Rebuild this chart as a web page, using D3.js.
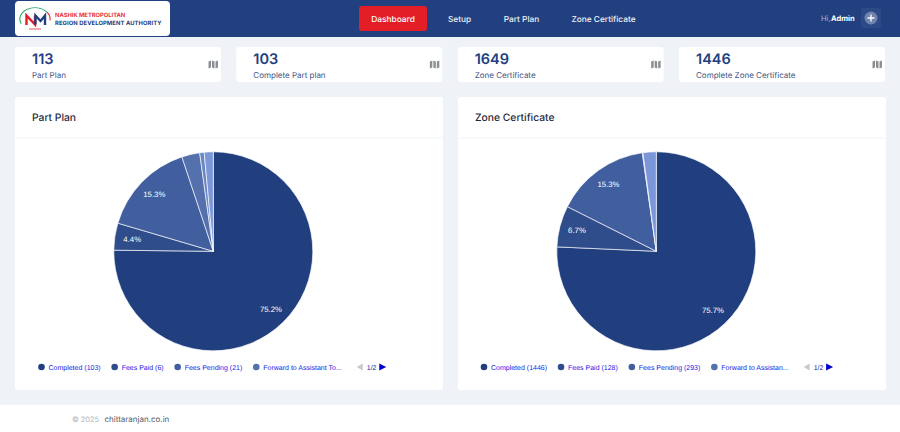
<!DOCTYPE html>
<html>
<head>
<meta charset="utf-8">
<title>Dashboard</title>
<script src="https://cdn.jsdelivr.net/npm/d3@7/dist/d3.min.js"></script>
<style>
  html, body { margin: 0; padding: 0; background: #eff2f6; }
  svg { display: block; }
  text { font-family: Inter, "Noto Sans", sans-serif; text-rendering: geometricPrecision; }
  .legend text, .slice-label { font-family: "Liberation Sans", Arial, sans-serif; }
</style>
</head>
<body>
<div id="chart"></div>
<script>
// numbers on the four cards
var statValues = [113, 103, 1649, 1446];
var statLabels = ['Part Plan', 'Complete Part plan', 'Zone Certificate', 'Complete Zone Certificate'];

var navItems = ['Setup', 'Part Plan', 'Zone Certificate'];

// pie data, the slices after the fourth are on legend page 2
var partPlanValues = [103, 6, 21, 4, 1, 2];
var partPlanLegend = ['Completed (103)', 'Fees Paid (6)', 'Fees Pending (21)', 'Forward to Assistant To...'];
var zoneValues = [1446, 128, 293, 2, 41];
var zoneLegend = ['Completed (1446)', 'Fees Paid (128)', 'Fees Pending (293)', 'Forward to Assistan...'];

var partPlanColors = ['#213f7f', '#2f4d8b', '#415f9e', '#5470ad', '#6a86c4', '#7b97da'];
var zoneColors = ['#213f7f', '#2f4d8b', '#415f9e', '#5470ad', '#7b97da'];

var navy = '#22407f';

var svg = d3.select('#chart').append('svg')
  .attr('width', 900)
  .attr('height', 432);

svg.append('rect').attr('width', 900).attr('height', 432).attr('fill', '#eff2f6');

// header
svg.append('rect').attr('width', 900).attr('height', 37).attr('fill', navy);
svg.append('rect').attr('x', 15).attr('y', 1).attr('width', 155).attr('height', 35).attr('rx', 4).attr('fill', '#fff');

// logo
var logo = svg.append('g').attr('transform', 'translate(35,19)');
var ring = d3.arc().innerRadius(12.6).outerRadius(13.5);
var ringWrap = logo.append('g').attr('transform', 'scale(1.16,0.87)');
ringWrap.append('path').attr('d', ring({startAngle: -2.0, endAngle: 0.9})).attr('fill', '#2aa66d');
ringWrap.append('path').attr('d', ring({startAngle: 0.9, endAngle: 1.7})).attr('fill', '#e41e26');
logo.append('path').attr('d', 'M-8.5,6V-3.5L0,5.5V-3.5').attr('fill', 'none').attr('stroke', '#e41e26').attr('stroke-width', 2.4);
logo.append('path').attr('d', 'M0.5,5.5V-3.5L5.5,2L10,-3.5V6').attr('fill', 'none').attr('stroke', navy).attr('stroke-width', 2.4);
logo.append('rect').attr('x', -6).attr('y', 9.4).attr('width', 12).attr('height', 1.2).attr('fill', '#e8737a');
svg.append('text').attr('x', 55).attr('y', 17).attr('font-size', 5.8).attr('font-weight', 700).attr('fill', '#e8343c').text('NASHIK METROPOLITAN');
svg.append('text').attr('x', 55).attr('y', 25).attr('font-size', 5.8).attr('font-weight', 700).attr('fill', navy).attr('letter-spacing', 0.1).text('REGION DEVELOPMENT AUTHORITY');

// nav
svg.append('rect').attr('x', 359).attr('y', 6).attr('width', 68).attr('height', 25).attr('rx', 3).attr('fill', '#e41e26');
svg.append('text').attr('x', 393).attr('y', 22).attr('text-anchor', 'middle').attr('font-size', 8.4).attr('font-weight', 500).attr('fill', '#fff').text('Dashboard');
var navScale = d3.scalePoint().domain(navItems).range([0, 2]);
var navCenters = d3.scaleLinear().domain([0, 1, 2]).range([459.5, 521.5, 603.5]);
svg.selectAll('.nav').data(navItems).enter().append('text')
  .attr('class', 'nav')
  .attr('x', function(d){ return navCenters(navScale(d)); })
  .attr('y', 22)
  .attr('text-anchor', 'middle')
  .attr('font-size', 8.3)
  .attr('font-weight', 500)
  .attr('fill', '#eef1f7')
  .text(function(d){ return d; });

// user
svg.append('text').attr('x', 821).attr('y', 21).attr('font-size', 7.5).attr('fill', '#a9b6d0').text('Hi,');
svg.append('text').attr('x', 831).attr('y', 21).attr('font-size', 7.5).attr('font-weight', 700).attr('fill', '#fff').text('Admin');
svg.append('rect').attr('x', 861).attr('y', 8).attr('width', 20).attr('height', 20).attr('rx', 3).attr('fill', '#2d4a87');
svg.append('circle').attr('cx', 871).attr('cy', 18).attr('r', 6.5).attr('fill', '#6f83ae');
svg.append('path').attr('d', 'M867.5,18H874.5M871,14.5V21.5').attr('stroke', '#fff').attr('stroke-width', 1.3);

// stat cards
var cardX = d3.scaleLinear().domain([0, 3]).range([15, 679]);
var cards = svg.selectAll('.card').data(statValues).enter().append('g')
  .attr('class', 'card')
  .attr('transform', function(d, i){ return 'translate(' + cardX(i) + ',47)'; });
cards.append('rect').attr('width', 206).attr('height', 35).attr('rx', 3).attr('fill', '#fff');
cards.append('text').attr('x', 17).attr('y', 16.5).attr('font-size', 14.5).attr('font-weight', 600).attr('fill', navy)
  .text(function(d){ return d; });
cards.append('text').attr('x', 17).attr('y', 31).attr('font-size', 8).attr('fill', '#3f5282')
  .text(function(d, i){ return statLabels[i]; });
cards.append('path').attr('d', 'M193.5,14.5l2.5,-1v7l-2.5,1zM197,13.5l2.5,1v7l-2.5,-1zM200.5,14.5l2.5,-1v7l-2.5,1z').attr('fill', '#8b8f94');

// pie panels
var pie = d3.pie().sort(null).value(function(d){ return d; });
var pieArc = d3.arc().innerRadius(0).outerRadius(99.5);
var labelArc = d3.arc().innerRadius(82).outerRadius(82);

function drawPanel(x, title, values, colors, legendLabels, legendStart) {
  var panel = svg.append('g').attr('transform', 'translate(' + x + ',97)');
  var total = d3.sum(values);

  panel.append('rect').attr('width', 428).attr('height', 293).attr('rx', 3).attr('fill', '#fff');
  panel.append('line').attr('x1', 0).attr('x2', 428).attr('y1', 41).attr('y2', 41).attr('stroke', '#f1f3f6');
  panel.append('text').attr('x', 17).attr('y', 24).attr('font-size', 10.3).attr('font-weight', 500).attr('fill', '#1f2a3d').text(title);

  var slices = panel.append('g').attr('transform', 'translate(198.3,154.3)');
  var arcs = pie(values);
  slices.selectAll('path').data(arcs).enter().append('path')
    .attr('d', pieArc)
    .attr('fill', function(d, i){ return colors[i]; })
    .attr('stroke', '#fff')
    .attr('stroke-opacity', 0.8)
    .attr('stroke-width', 0.8);

  slices.selectAll('text').data(arcs.filter(function(d){ return d.value / total > 0.04; })).enter().append('text')
    .attr('class', 'slice-label')
    .attr('transform', function(d){ return 'translate(' + labelArc.centroid(d) + ')'; })
    .attr('text-anchor', 'middle')
    .attr('dy', '0.35em')
    .attr('font-size', 7.8)
    .attr('fill', '#fff')
    .text(function(d){ return d3.format('.1%')(d.value / total); });

  // legend flows left to right, the way the pager legend does
  var legend = panel.append('g').attr('class', 'legend').attr('transform', 'translate(0,270)');
  var cursor = legendStart;
  legendLabels.forEach(function(label, i){
    legend.append('circle').attr('cx', cursor).attr('cy', 0).attr('r', 3.3).attr('fill', colors[i]);
    var t = legend.append('text').attr('x', cursor + 7).attr('y', 2.6).attr('font-size', 7).attr('fill', '#1a1ae6').text(label);
    cursor += 7 + t.node().getComputedTextLength() + 14;
  });
  cursor += 1;
  legend.append('path').attr('d', 'M' + cursor + ',0l6,-3.5v7z').attr('fill', '#c9c9c9');
  legend.append('text').attr('x', cursor + 10).attr('y', 2.6).attr('font-size', 7).attr('fill', '#222299').text('1/2');
  legend.append('path').attr('d', 'M' + (cursor + 22.5) + ',-3.5l7,3.5l-7,3.5z').attr('fill', '#0000cc');
}

drawPanel(15, 'Part Plan', partPlanValues, partPlanColors, partPlanLegend, 26.5);
drawPanel(458, 'Zone Certificate', zoneValues, zoneColors, zoneLegend, 26);

// footer
svg.append('rect').attr('y', 405).attr('width', 900).attr('height', 27).attr('fill', '#fff');
svg.append('text').attr('x', 72).attr('y', 422).attr('font-size', 7.4).attr('fill', '#adb1b8').text('© 2025');
svg.append('text').attr('x', 104.5).attr('y', 422).attr('font-size', 8).attr('fill', '#555a63').text('chittaranjan.co.in');
</script>
</body>
</html>
